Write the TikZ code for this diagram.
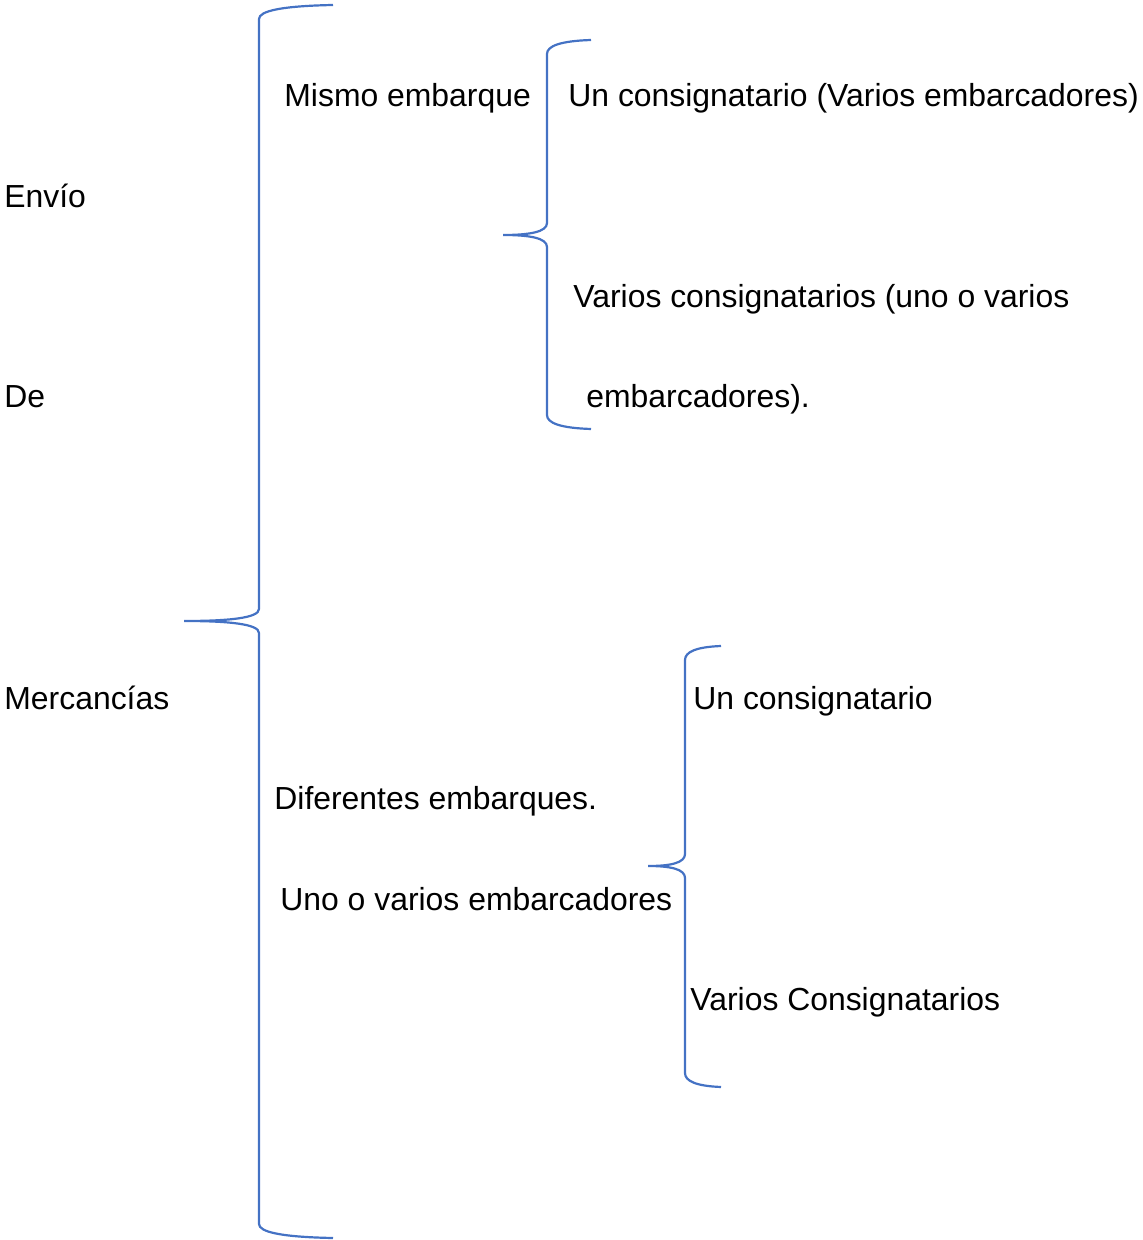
\documentclass[tikz,border=0pt]{standalone}
\usepackage{fontspec}
\setmainfont{Liberation Sans}
\definecolor{braceblue}{RGB}{68,114,196}
\tikzset{
	lbl/.style={anchor=base west,inner sep=0pt,font=\fontsize{15.95}{19}\selectfont},
	brc/.style={draw=braceblue,line width=1.1pt}
}
% brace: x of stem, top, bottom, y of tip, x of tip, x of ends
\newcommand{\curlybr}[6]{%
	\draw[brc] (#6,#2) .. controls (#1+0.3*#6-0.3*#1,#2+1) and (#1,#2+6) .. (#1,#2+14)
	 -- (#1,#4-12) .. controls (#1,#4-3) and (#1-0.4*#1+0.4*#5,#4) .. (#5,#4)
	 .. controls (#1-0.4*#1+0.4*#5,#4) and (#1,#4+3) .. (#1,#4+12)
	 -- (#1,#3-14) .. controls (#1,#3-6) and (#1+0.3*#6-0.3*#1,#3-1) .. (#6,#3);}
\begin{document}
\begin{tikzpicture}[x=0.5pt,y=-0.5pt]
	\useasboundingbox (0,0) rectangle (1143,1240);
	% left column
	\node[lbl] (envio) at (4,208) {Envío};
	\node[lbl] (de) at (4,408) {De};
	\node[lbl] (merc) at (4,709) {Mercancías};
	% braces
	\curlybr{259}{5}{1238}{621}{184}{333}
	\curlybr{547}{40}{429}{235}{503}{591}
	\curlybr{685}{646}{1087}{866}{648}{721}
	% first branch
	\node[lbl] (mismo) at (284,107) {Mismo embarque};
	\node[lbl] (uncons) at (568,107) {Un consignatario (Varios embarcadores)};
	\node[lbl] (varcons) at (573,308) {Varios consignatarios (uno o varios};
	\node[lbl] (embarc) at (586,408) {embarcadores).};
	% second branch
	\node[lbl] (difer) at (274,809) {Diferentes embarques.};
	\node[lbl] (unovar) at (280,910) {Uno o varios embarcadores};
	\node[lbl] (uncons2) at (693,709) {Un consignatario};
	\node[lbl] (varcons2) at (690,1010) {Varios Consignatarios};
\end{tikzpicture}
\end{document}
